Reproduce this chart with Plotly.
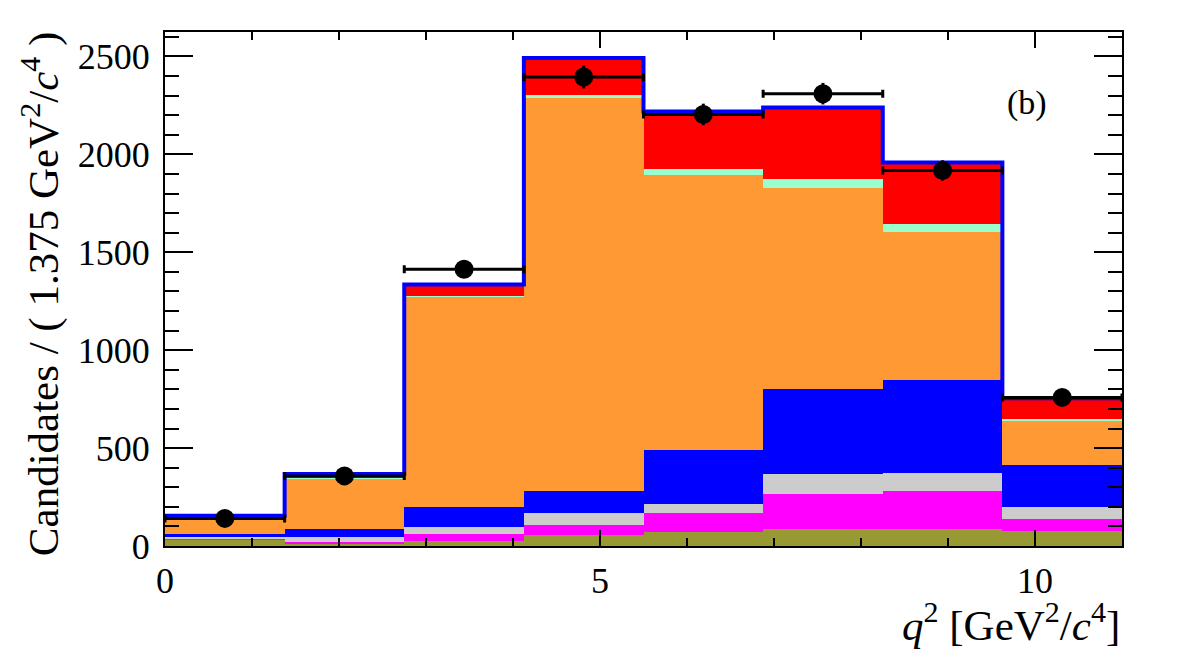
import plotly.graph_objects as go

# ---- data ----
bin_edges = [0, 1.375, 2.75, 4.125, 5.5, 6.875, 8.25, 9.625, 11.0]

# stacked components, bottom to top
olive   = [31, 14, 26, 56, 73, 87, 87, 77]
magenta = [9, 8, 37, 51, 94, 178, 194, 61]
gray    = [5, 23, 32, 60, 47, 101, 93, 63]
blue    = [16, 40, 102, 114, 276, 435, 476, 212]
orange  = [72, 260, 1078, 2008, 1406, 1029, 754, 225]
mint    = [3, 3, 3, 15, 31, 46, 42, 13]
red     = [19, 20, 57, 188, 292, 364, 313, 104]

data_y   = [141, 358, 1413, 2395, 2204, 2310, 1918, 759]
data_err = [12, 19, 38, 58, 55, 55, 52, 28]

y_ticks = [0, 500, 1000, 1500, 2000, 2500]
x_ticks = [0, 5, 10]

components = [
    ("olive", olive, "#999933"),
    ("magenta", magenta, "#FF00FF"),
    ("gray", gray, "#CCCCCC"),
    ("blue", blue, "#0000FF"),
    ("orange", orange, "#FF9933"),
    ("mint", mint, "#99FFCC"),
    ("red", red, "#FF0000"),
]

centers = [(bin_edges[i] + bin_edges[i + 1]) / 2 for i in range(len(bin_edges) - 1)]
widths = [bin_edges[i + 1] - bin_edges[i] for i in range(len(bin_edges) - 1)]
halfw = [w / 2 for w in widths]

fig = go.Figure()
for name, vals, col in components:
    fig.add_trace(go.Bar(
        x=centers, y=vals, width=widths, name=name,
        marker=dict(color=col, line=dict(width=0)),
        showlegend=False,
    ))

total = [sum(c[1][i] for c in components) for i in range(len(centers))]
fig.add_trace(go.Scatter(
    x=bin_edges, y=total + [total[-1]], mode="lines",
    line=dict(color="#0000FF", width=4, shape="hv"),
    showlegend=False,
))

fig.add_trace(go.Scatter(
    x=centers, y=data_y, mode="markers",
    marker=dict(color="black", size=19),
    error_x=dict(type="data", array=halfw, color="black", thickness=3, width=4),
    error_y=dict(type="data", array=data_err, color="black", thickness=3, width=0),
    showlegend=False,
))

font_family = "Liberation Serif, Times New Roman, serif"

fig.update_layout(
    barmode="stack",
    bargap=0,
    width=1182, height=650,
    margin=dict(l=165, r=60, t=32, b=104),
    paper_bgcolor="white", plot_bgcolor="white",
    font=dict(family=font_family, color="black"),
    xaxis=dict(
        range=[0, 11], tickvals=x_ticks, ticks="inside", ticklen=16, tickwidth=2,
        tickcolor="black", showline=True, linewidth=2, linecolor="black",
        mirror="allticks", showgrid=False, zeroline=False,
        tickfont=dict(size=36, family=font_family, color="black"),
        minor=dict(ticks="inside", ticklen=8, tickwidth=2, tickcolor="black", dtick=1, showgrid=False),
        ticklabelstandoff=2,
    ),
    yaxis=dict(
        range=[0, 2625], tickvals=y_ticks, ticks="inside", ticklen=28, tickwidth=2,
        tickcolor="black", showline=True, linewidth=2, linecolor="black",
        mirror="allticks", showgrid=False, zeroline=False,
        tickfont=dict(size=36, family=font_family, color="black"),
        minor=dict(ticks="inside", ticklen=14, tickwidth=2, tickcolor="black", dtick=100, showgrid=False),
        ticklabelstandoff=6,
    ),
    annotations=[
        dict(text="Candidates / ( 1.375 GeV<sup>2</sup>/<i>c</i><sup>4</sup> )",
             xref="paper", yref="paper", x=0, y=0.49, xanchor="center", yanchor="middle",
             xshift=-125, textangle=-90, showarrow=False,
             font=dict(size=43, family=font_family, color="black")),
        dict(text="<i>q</i><sup>2</sup> [GeV<sup>2</sup>/<i>c</i><sup>4</sup>]",
             xref="paper", yref="paper", x=1, y=0, xanchor="right", yanchor="middle",
             yshift=-76, showarrow=False,
             font=dict(size=43, family=font_family, color="black")),
        dict(text="(b)", xref="x", yref="y", x=9.91, y=2260, xanchor="center", yanchor="middle",
             showarrow=False, font=dict(size=34, family=font_family, color="black")),
    ],
)

fig.write_html("out.html")
